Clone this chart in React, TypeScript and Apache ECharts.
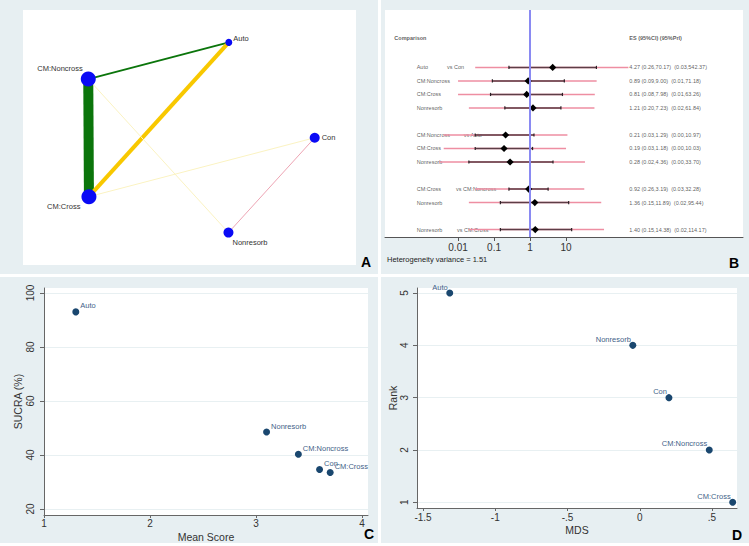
import React, { useEffect, useRef } from 'react';
import * as echarts from 'echarts';

const FONT = '"Liberation Sans", Arial, Helvetica, sans-serif';

// ---------- Panel A: network ----------
const networkNodes = ['Auto', 'CM:Noncross', 'CM:Cross', 'Con', 'Nonresorb'];
const networkX = [0.618, 0.196, 0.198, 0.876, 0.617];
const networkY = [0.873, 0.729, 0.268, 0.499, 0.127];
const nodeWeights = [7, 15, 15, 10, 10];
const edgeSource = ['Auto', 'CM:Noncross', 'CM:Cross', 'CM:Noncross', 'CM:Cross', 'Con'];
const edgeTarget = ['CM:Noncross', 'CM:Cross', 'Auto', 'Nonresorb', 'Con', 'Nonresorb'];
const edgeWeights = [2, 10, 4, 1, 1, 1];
const edgeGroups = ['green', 'green', 'gold', 'pale', 'pale', 'pink'];

// ---------- Panel B: forest plot ----------
const comparisonLabels = ['Auto', 'CM:Noncross', 'CM:Cross', 'Nonresorb', 'CM:Noncross', 'CM:Cross', 'Nonresorb', 'CM:Cross', 'Nonresorb', 'Nonresorb'];
const versusLabels = ['vs Con', '', '', '', 'vs Auto', '', '', 'vs CM:Noncross', '', 'vs CM:Cross'];
const forestRows = [1, 2, 3, 4, 6, 7, 8, 10, 11, 13];
const esValues = [4.27, 0.89, 0.81, 1.21, 0.21, 0.19, 0.28, 0.92, 1.36, 1.40];
const ciLower = [0.26, 0.09, 0.08, 0.20, 0.03, 0.03, 0.02, 0.26, 0.15, 0.15];
const ciUpper = [70.17, 9.00, 7.98, 7.23, 1.29, 1.18, 4.36, 3.19, 11.89, 14.38];
const priLower = [0.03, 0.01, 0.01, 0.02, 0.004, 0.004, 0.003, 0.03, 0.02, 0.02];
const priUpper = [542.37, 71.18, 63.26, 61.84, 10.97, 10.03, 33.70, 32.28, 95.44, 114.17];
const forestTickValues = [0.01, 0.1, 1, 10];
const forestTickLabels = ['0.01', '0.1', '1', '10'];
const heterogeneityVariance = 1.51;

// ---------- Panel C: SUCRA vs mean score ----------
const sucraNames = ['Auto', 'Nonresorb', 'CM:Noncross', 'Con', 'CM:Cross'];
const meanScores = [1.3, 3.1, 3.4, 3.6, 3.7];
const sucraValues = [93, 48.5, 40.3, 34.6, 33.5];
const sucraTicks = [20, 40, 60, 80, 100];
const meanScoreTicks = [1, 2, 3, 4];

// ---------- Panel D: Rank vs MDS ----------
const mdsNames = ['Auto', 'Nonresorb', 'Con', 'CM:Noncross', 'CM:Cross'];
const mdsValues = [-1.315, -0.048, 0.202, 0.481, 0.643];
const rankValues = [5, 4, 3, 2, 1];
const mdsTicks = [-1.5, -1, -0.5, 0, 0.5];
const rankTicks = [1, 2, 3, 4, 5];

const PANEL_BG = '#e7eff2';
const MARKER = '#1a476f';
const MARKER_LABEL = '#3f5f88';

function buildOption() {
  const edgeColor: Record<string, string> = {
    green: '#0b750b',
    gold: '#f8c800',
    pale: '#fbf3c2',
    pink: '#eda4b3',
  };
  const nodeLabel: Record<string, any> = {
    'Auto': { position: 'right', distance: 1, offset: [0, -4] },
    'CM:Noncross': { position: 'left', distance: 0, offset: [2, -11] },
    'CM:Cross': { position: 'left', distance: 0, offset: [-1, 10] },
    'Con': { position: 'right', distance: 2, offset: [0, 0] },
    'Nonresorb': { position: 'right', distance: 0, offset: [-1, 10] },
  };

  const log = (v: number) => Math.log10(v);
  const forestData = forestRows.map((r, i) => [
    r, log(esValues[i]), log(ciLower[i]), log(ciUpper[i]), log(priLower[i]), log(priUpper[i]),
  ]);

  const vsX: Record<string, number> = {
    'vs Con': -2.31, 'vs Auto': -1.84, 'vs CM:Noncross': -2.06, 'vs CM:Cross': -2.03,
  };
  const textItems: any[] = [];
  textItems.push({ name: 'Comparison', value: [-3.77, -1.2], label: { fontWeight: 'bold' } });
  textItems.push({ name: 'ES (95%CI) (95%PrI)', value: [2.76, -1.2], label: { fontWeight: 'bold' } });
  forestRows.forEach((r, i) => {
    textItems.push({ name: comparisonLabels[i], value: [-3.15, r] });
    if (versusLabels[i]) textItems.push({ name: versusLabels[i], value: [vsX[versusLabels[i]], r] });
    const s = `${esValues[i].toFixed(2)} (${ciLower[i].toFixed(2)},${ciUpper[i].toFixed(2)})  (${priLower[i].toFixed(2)},${priUpper[i].toFixed(2)})`;
    textItems.push({ name: s, value: [2.76, r] });
  });

  const tickLogValues = forestTickValues.map(log);

  const axisGrey = '#666';
  const labelStyle = { color: '#333', fontSize: 10, fontFamily: FONT };

  return {
    animation: false,
    backgroundColor: '#ffffff',
    textStyle: { fontFamily: FONT },
    graphic: [
      { type: 'rect', z: -10, shape: { x: 0, y: 0, width: 378, height: 274 }, style: { fill: PANEL_BG } },
      { type: 'rect', z: -10, shape: { x: 381, y: 0, width: 368, height: 274 }, style: { fill: PANEL_BG } },
      { type: 'rect', z: -10, shape: { x: 0, y: 277, width: 378, height: 266 }, style: { fill: PANEL_BG } },
      { type: 'rect', z: -10, shape: { x: 381, y: 277, width: 368, height: 266 }, style: { fill: PANEL_BG } },
      { type: 'rect', z: -9, shape: { x: 23, y: 10, width: 333, height: 255 }, style: { fill: '#ffffff' } },
      { type: 'text', x: 366, y: 262, style: { text: 'A', font: `bold 14px ${FONT}`, fill: '#000', textAlign: 'center', textVerticalAlign: 'middle' } },
      { type: 'text', x: 734, y: 263, style: { text: 'B', font: `bold 14px ${FONT}`, fill: '#000', textAlign: 'center', textVerticalAlign: 'middle' } },
      { type: 'text', x: 369, y: 534, style: { text: 'C', font: `bold 14px ${FONT}`, fill: '#000', textAlign: 'center', textVerticalAlign: 'middle' } },
      { type: 'text', x: 737, y: 535, style: { text: 'D', font: `bold 14px ${FONT}`, fill: '#000', textAlign: 'center', textVerticalAlign: 'middle' } },
      { type: 'text', x: 387, y: 259, style: { text: `Heterogeneity variance = ${heterogeneityVariance.toFixed(2)}`, font: `7.5px ${FONT}`, fill: '#222', textAlign: 'left', textVerticalAlign: 'middle' } },
    ],
    grid: [
      { left: 23, top: 10, width: 333, height: 255, outerBoundsMode: 'none' },
      { left: 385, top: 10, width: 358, height: 227, show: true, backgroundColor: '#ffffff', borderWidth: 0, outerBoundsMode: 'none' },
      { left: 44, top: 288, width: 324, height: 227, show: true, backgroundColor: '#ffffff', borderWidth: 0, outerBoundsMode: 'none' },
      { left: 417, top: 288, width: 320, height: 220, show: true, backgroundColor: '#ffffff', borderWidth: 0, outerBoundsMode: 'none' },
    ],
    xAxis: [
      { gridIndex: 0, type: 'value', min: 0, max: 1, show: false },
      {
        gridIndex: 1, type: 'value', min: -4.03, max: 5.92,
        axisLine: { show: true, onZero: false, lineStyle: { color: '#555', width: 1 } },
        axisTick: { show: true, length: 4, lineStyle: { color: '#555' }, customValues: tickLogValues },
        axisLabel: {
          ...labelStyle, margin: 5, customValues: tickLogValues,
          formatter: (v: number) => {
            const idx = tickLogValues.findIndex((t) => Math.abs(t - v) < 1e-6);
            return idx >= 0 ? forestTickLabels[idx] : '';
          },
        },
        splitLine: { show: false },
      },
      {
        gridIndex: 2, type: 'value', min: 1, max: 4.057,
        name: 'Mean Score', nameLocation: 'middle', nameGap: 16,
        nameTextStyle: { color: '#333', fontSize: 10.5, fontFamily: FONT },
        axisLine: { show: true, onZero: false, lineStyle: { color: axisGrey } },
        axisTick: { show: true, length: 3, lineStyle: { color: axisGrey }, customValues: meanScoreTicks },
        axisLabel: { ...labelStyle, margin: 3, customValues: meanScoreTicks },
        splitLine: { show: false },
      },
      {
        gridIndex: 3, type: 'value', min: -1.5416, max: 0.673,
        name: 'MDS', nameLocation: 'middle', nameGap: 16,
        nameTextStyle: { color: '#333', fontSize: 10.5, fontFamily: FONT },
        axisLine: { show: true, onZero: false, lineStyle: { color: axisGrey } },
        axisTick: { show: true, length: 3, lineStyle: { color: axisGrey }, customValues: mdsTicks },
        axisLabel: {
          ...labelStyle, margin: 4, customValues: mdsTicks,
          formatter: (v: number) => (Math.abs(v) < 1e-9 ? '0' : String(v).replace('0.', '.')),
        },
        splitLine: { show: false },
      },
    ],
    yAxis: [
      { gridIndex: 0, type: 'value', min: 0, max: 1, show: false },
      { gridIndex: 1, type: 'value', min: -3.25, max: 13.55, inverse: true, show: false },
      {
        gridIndex: 2, type: 'value', min: 17.78, max: 101.85,
        name: 'SUCRA (%)', nameLocation: 'middle', nameGap: 21,
        nameTextStyle: { color: '#333', fontSize: 10.5, fontFamily: FONT },
        axisLine: { show: true, onZero: false, lineStyle: { color: axisGrey } },
        axisTick: { show: true, length: 4, lineStyle: { color: axisGrey }, customValues: sucraTicks },
        axisLabel: { ...labelStyle, rotate: 90, margin: 9, customValues: sucraTicks },
        splitLine: { show: true, lineStyle: { color: '#e8f0f2', width: 1 } },
      },
      {
        gridIndex: 3, type: 'value', min: 0.891, max: 5.096,
        name: 'Rank', nameLocation: 'middle', nameGap: 17,
        nameTextStyle: { color: '#333', fontSize: 10.5, fontFamily: FONT },
        axisLine: { show: true, onZero: false, lineStyle: { color: axisGrey } },
        axisTick: { show: true, length: 4, lineStyle: { color: axisGrey }, customValues: rankTicks },
        axisLabel: { ...labelStyle, rotate: 90, margin: 8, customValues: rankTicks },
        splitLine: { show: true, lineStyle: { color: '#e8f0f2', width: 1 } },
      },
    ],
    series: [
      {
        type: 'graph',
        coordinateSystem: 'cartesian2d',
        xAxisIndex: 0, yAxisIndex: 0,
        layout: 'none',
        silent: true,
        symbol: 'circle',
        itemStyle: { color: '#0a0af5', opacity: 1 },
        label: { show: true, color: '#333', fontSize: 7.5, fontFamily: FONT },
        emphasis: { disabled: true },
        data: networkNodes.map((n, i) => ({
          name: n,
          value: [networkX[i], networkY[i]],
          symbolSize: nodeWeights[i],
          label: { show: true, ...nodeLabel[n] },
        })),
        links: edgeSource.map((s, i) => ({
          source: s,
          target: edgeTarget[i],
          lineStyle: { width: edgeWeights[i], color: edgeColor[edgeGroups[i]], opacity: 1, curveness: 0 },
        })),
        lineStyle: { opacity: 1 },
        z: 3,
      },
      {
        type: 'scatter',
        xAxisIndex: 1, yAxisIndex: 1,
        symbolSize: 0,
        silent: true,
        z: 1,
        label: {
          show: true, position: 'right', distance: 0, formatter: '{b}',
          fontSize: 5.5, color: '#333', fontFamily: FONT,
        },
        data: textItems,
        markLine: {
          silent: true,
          symbol: ['none', 'none'],
          label: { show: false },
          lineStyle: { color: '#8a8af2', width: 2, type: 'solid' },
          data: [{ xAxis: 0 }],
        },
      },
      {
        type: 'custom',
        xAxisIndex: 1, yAxisIndex: 1,
        silent: true,
        z: 3,
        encode: { x: [1, 2, 3, 4, 5], y: 0 },
        data: forestData,
        renderItem: (_params: any, api: any) => {
          const y = api.value(0);
          const p = (v: number) => api.coord([v, y]);
          const es = p(api.value(1));
          const cl = p(api.value(2));
          const ch = p(api.value(3));
          const pl = p(api.value(4));
          const ph = p(api.value(5));
          const d = 3.6;
          return {
            type: 'group',
            children: [
              { type: 'line', shape: { x1: pl[0], y1: pl[1], x2: ph[0], y2: ph[1] }, style: { stroke: '#ee8ea2', lineWidth: 1.6 } },
              { type: 'line', shape: { x1: cl[0], y1: cl[1], x2: ch[0], y2: ch[1] }, style: { stroke: '#5d3d46', lineWidth: 1.6 } },
              { type: 'line', shape: { x1: cl[0], y1: cl[1] - 1.6, x2: cl[0], y2: cl[1] + 1.6 }, style: { stroke: '#2a2025', lineWidth: 1.2 } },
              { type: 'line', shape: { x1: ch[0], y1: ch[1] - 1.6, x2: ch[0], y2: ch[1] + 1.6 }, style: { stroke: '#2a2025', lineWidth: 1.2 } },
              { type: 'polygon', shape: { points: [[es[0], es[1] - d], [es[0] + d, es[1]], [es[0], es[1] + d], [es[0] - d, es[1]]] }, style: { fill: '#000' } },
            ],
          };
        },
      },
      {
        type: 'scatter',
        xAxisIndex: 2, yAxisIndex: 2,
        symbolSize: 7,
        silent: true,
        itemStyle: { color: MARKER, opacity: 1 },
        label: {
          show: true, position: 'right', distance: 1, offset: [0, -6], formatter: '{b}',
          fontSize: 7.5, color: MARKER_LABEL, fontFamily: FONT,
        },
        data: sucraNames.map((n, i) => ({ name: n, value: [meanScores[i], sucraValues[i]] })),
      },
      {
        type: 'scatter',
        xAxisIndex: 3, yAxisIndex: 3,
        symbolSize: 7,
        silent: true,
        itemStyle: { color: MARKER, opacity: 1 },
        label: {
          show: true, position: 'left', distance: 0, offset: [1.5, -6], formatter: '{b}',
          fontSize: 7.5, color: MARKER_LABEL, fontFamily: FONT,
        },
        data: mdsNames.map((n, i) => ({ name: n, value: [mdsValues[i], rankValues[i]] })),
      },
    ],
  };
}

export default function App() {
  const ref = useRef<HTMLDivElement>(null);
  useEffect(() => {
    if (!ref.current) return;
    const chart = echarts.init(ref.current, undefined, { renderer: 'svg' });
    chart.setOption(buildOption() as any);
    return () => chart.dispose();
  }, []);
  return (
    <div
      ref={ref}
      style={{ position: 'fixed', left: 0, top: 0, width: 749, height: 546 }}
    />
  );
}
